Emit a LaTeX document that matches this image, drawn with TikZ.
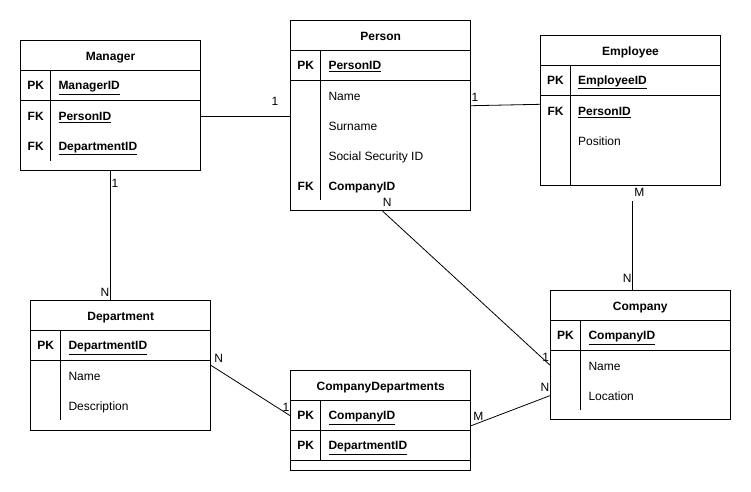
\documentclass[tikz,border=0pt]{standalone}
\usepackage{fontspec}
\setmainfont{Liberation Sans}
\usepackage{tikz}

\tikzset{
  entity/.style={draw,rectangle,line width=1pt,inner sep=0pt},
  title/.style={inner sep=0pt,text height=8.6pt,text depth=0pt,font=\fontsize{12}{14}\selectfont\bfseries},
  attr/.style={anchor=west,inner sep=0pt,text height=8.6pt,text depth=0pt,font=\fontsize{12}{14}\selectfont},
  keyattr/.style={attr,font=\fontsize{12}{14}\selectfont\bfseries},
  keylabel/.style={title},
  card/.style={inner sep=0pt,text height=8.6pt,text depth=0pt,font=\fontsize{12}{14}\selectfont},
  link/.style={line width=0.8pt},
  rule/.style={line width=1pt},
}

\begin{document}
\begin{tikzpicture}[x=1pt,y=-1pt]
    \useasboundingbox (0,0) rectangle (751,491);

    % Manager
    \node[entity,minimum width=179.6pt,minimum height=130pt] (manager) at (110.5,105.7) {};
    \draw[rule] (20.7,70.3) -- (200.3,70.3);
    \draw[rule] (20.7,100) -- (200.3,100);
    \draw[rule] (50.7,70.3) -- (50.7,160.7);
    \node[title] (managerT) at (110.5,56) {Manager};
    \node[keylabel] (mgrPK) at (35.7,85.5) {PK};
    \node[keyattr] (mgrID) at (58.3,85.5) {\underline{ManagerID}};
    \node[keylabel] (mgrFK1) at (35.7,116.5) {FK};
    \node[keyattr] (mgrPerson) at (58.3,116.5) {\underline{PersonID}};
    \node[keylabel] (mgrFK2) at (35.7,146) {FK};
    \node[keyattr] (mgrDept) at (58.3,146) {\underline{DepartmentID}};

    % Person
    \node[entity,minimum width=180pt,minimum height=190pt] (person) at (380.7,115.7) {};
    \draw[rule] (290.7,50.7) -- (470.7,50.7);
    \draw[rule] (290.7,80.3) -- (470.7,80.3);
    \draw[rule] (320.7,50.7) -- (320.7,200);
    \node[title] (personT) at (380.7,36) {Person};
    \node[keylabel] (perPK) at (305.7,65.5) {PK};
    \node[keyattr] (perID) at (328.3,65.5) {\underline{PersonID}};
    \node[attr] (perName) at (328.3,96) {Name};
    \node[attr] (perSurname) at (328.3,126) {Surname};
    \node[attr] (perSSN) at (328.3,156) {Social Security ID};
    \node[keylabel] (perFK) at (305.7,186) {FK};
    \node[keyattr] (perCompany) at (328.3,186) {CompanyID};

    % Employee
    \node[entity,minimum width=179.6pt,minimum height=150pt] (employee) at (630.5,110.3) {};
    \draw[rule] (540.7,65.3) -- (720.3,65.3);
    \draw[rule] (540.7,95.3) -- (720.3,95.3);
    \draw[rule] (570.3,65.3) -- (570.3,185.3);
    \node[title] (employeeT) at (630.5,50.7) {Employee};
    \node[keylabel] (empPK) at (555.5,80.5) {PK};
    \node[keyattr] (empID) at (577.9,80.5) {\underline{EmployeeID}};
    \node[keylabel] (empFK) at (555.5,111) {FK};
    \node[keyattr] (empPerson) at (577.9,111) {\underline{PersonID}};
    \node[attr] (empPosition) at (577.9,141) {Position};

    % Company
    \node[entity,minimum width=180pt,minimum height=129.3pt] (company) at (640.3,355.3) {};
    \draw[rule] (550.3,320.7) -- (730.3,320.7);
    \draw[rule] (550.3,350.3) -- (730.3,350.3);
    \draw[rule] (580.7,320.7) -- (580.7,410);
    \node[title] (companyT) at (640.3,305.7) {Company};
    \node[keylabel] (comPK) at (565.5,335.5) {PK};
    \node[keyattr] (comID) at (588.3,335.5) {\underline{CompanyID}};
    \node[attr] (comName) at (588.3,365.7) {Name};
    \node[attr] (comLocation) at (588.3,395.7) {Location};

    % CompanyDepartments
    \node[entity,minimum width=180pt,minimum height=100pt] (compdept) at (380.7,420.3) {};
    \draw[rule] (290.7,400.3) -- (470.7,400.3);
    \draw[rule] (290.7,430.3) -- (470.7,430.3);
    \draw[rule] (290.7,460.3) -- (470.7,460.3);
    \draw[rule] (320.7,400.3) -- (320.7,460.3);
    \node[title] (compdeptT) at (380.7,386) {CompanyDepartments};
    \node[keylabel] (cdPK1) at (305.7,415.5) {PK};
    \node[keyattr] (cdCompany) at (328.3,415.5) {\underline{CompanyID}};
    \node[keylabel] (cdPK2) at (305.7,445.5) {PK};
    \node[keyattr] (cdDept) at (328.3,445.5) {\underline{DepartmentID}};

    % Department
    \node[entity,minimum width=180pt,minimum height=129.6pt] (department) at (120.7,365.5) {};
    \draw[rule] (30.7,330.7) -- (210.7,330.7);
    \draw[rule] (30.7,360.3) -- (210.7,360.3);
    \draw[rule] (60.7,330.7) -- (60.7,420.3);
    \node[title] (departmentT) at (120.7,315.7) {Department};
    \node[keylabel] (depPK) at (45.7,345.5) {PK};
    \node[keyattr] (depID) at (68.3,345.5) {\underline{DepartmentID}};
    \node[attr] (depName) at (68.3,375.7) {Name};
    \node[attr] (depDesc) at (68.3,405.7) {Description};

    % relations
    \coordinate (empM) at ([xshift=2pt,yshift=-15pt]employee.south);
    \draw[link] (manager.east |- mgrPerson) -- (person.west |- mgrPerson);
    \draw[link] (manager.south) -- (department.north -| manager.south);
    \draw[link] ([yshift=10pt]person.east) -- ([yshift=6pt]employee.west);
    \draw[link] (empM) -- (empM |- company.north);
    \draw[link] ([xshift=2pt]person.south) -- ([yshift=-9.7pt]company.west);
    \draw[link] ([yshift=-5.4pt]compdept.east) -- ([yshift=-40.4pt]company.west);
    \draw[link] (department.east) -- ([yshift=4.6pt]compdept.west);

    % cardinalities
    \node[card] (c1) at (275,100.7) {1};
    \node[card] (c2) at (115,182.7) {1};
    \node[card] (c3) at (105,291.7) {N};
    \node[card] (c4) at (475,96.7) {1};
    \node[card] (c5) at (387.3,201.7) {N};
    \node[card] (c6) at (639.3,192.3) {M};
    \node[card] (c7) at (627.3,278.3) {N};
    \node[card] (c8) at (545.7,357.3) {1};
    \node[card] (c9) at (545,386.7) {N};
    \node[card] (c10) at (478.3,416) {M};
    \node[card] (c11) at (218.7,357.7) {N};
    \node[card] (c12) at (286,406.7) {1};
\end{tikzpicture}
\end{document}
